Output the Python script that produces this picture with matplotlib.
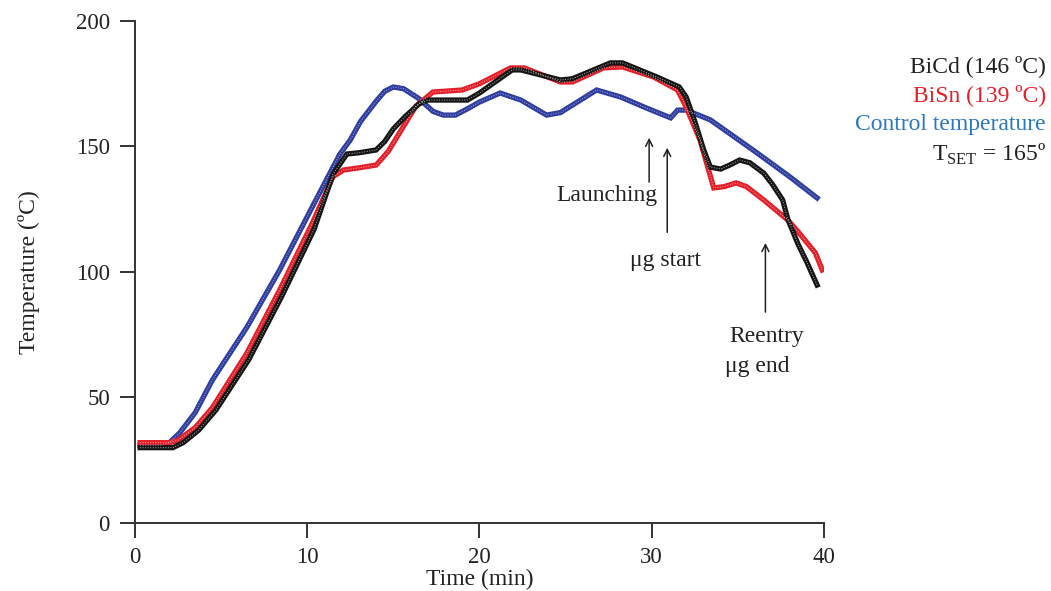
import numpy as np
import matplotlib
matplotlib.use('Agg')
from matplotlib import pyplot as plt

plt.rcParams['font.family'] = ['Liberation Serif', 'DejaVu Serif']
plt.rcParams['mathtext.fontset'] = 'custom'
plt.rcParams['mathtext.rm'] = 'Liberation Serif'

# control temperature (blue)
t_ctrl = [0.3, 1.5, 2.0, 2.6, 3.5, 4.5, 6.5, 8.4, 10.3, 11.9, 12.5, 13.1, 14.0, 14.5, 15.0,
          15.6, 16.5, 17.3, 17.9, 18.6, 19.3, 20.0, 21.2, 22.4, 23.9, 24.7, 26.8, 28.2, 29.7,
          31.1, 31.5, 32.0, 33.4, 36.0, 38.0, 39.6]
T_ctrl = [31, 31, 32, 35.9, 44, 57, 78, 100.8, 126, 147, 152.6, 160, 168, 172, 173.7,
          173, 169, 164, 162.5, 162.5, 165, 167.7, 171.3, 168.5, 162.5, 163.5, 172.5, 169.7, 165.3,
          161.4, 164.5, 164.5, 160.6, 148, 138, 129.5]

# BiCd (black)
t_bicd = [0.3, 2.2, 2.8, 3.7, 4.7, 6.6, 8.5, 10.4, 11.5, 12.3, 13.0, 14.0, 14.5, 15.0, 15.7,
          16.5, 17.0, 19.3, 20.0, 21.9, 22.4, 24.7, 25.4, 27.6, 28.3, 30.3, 31.6, 32.0, 32.5,
          33.0, 33.4, 34.0, 34.5, 35.1, 35.7, 36.5, 37.0, 37.6, 37.9, 38.5, 39.0, 39.6]
T_bicd = [30, 30, 32, 37, 45, 65, 90, 117, 139, 147, 147.5, 148.6, 152, 157, 162,
          167, 168.5, 168.5, 171.3, 180.5, 180.5, 176.5, 177, 183.3, 183.3, 177.7, 173.7, 169.7, 160,
          149, 141.8, 141, 142.5, 144.6, 143.5, 139.4, 135, 128.7, 121, 111, 104, 94.8]

# BiSn (red)
t_bisn = [0.3, 2.0, 2.5, 3.5, 4.5, 6.5, 8.4, 10.3, 11.5, 12.1, 13.0, 14.0, 14.7, 15.5, 16.3,
          17.3, 19.0, 20.0, 21.8, 22.6, 24.7, 25.4, 27.2, 28.3, 30.1, 31.5, 32.0, 32.8, 33.6,
          34.2, 34.9, 35.5, 36.5, 37.9, 38.5, 39.5, 39.9]
T_bisn = [32, 32, 33, 38, 46, 67.7, 92.8, 119.5, 138, 140.6, 141.5, 142.6, 148, 157, 166,
          171.7, 172.5, 175, 181.3, 181.3, 175.7, 175.7, 181.3, 181.7, 177.7, 172.5, 165.7, 152.6, 133.5,
          134, 135.5, 134, 128.7, 120.7, 116, 107.6, 100.8]

x_ticks = [0, 10, 20, 30, 40]
y_ticks = [0, 50, 100, 150, 200]

fs = 17
fig = plt.figure(figsize=(10.51, 5.91), dpi=100)
ax = fig.add_axes([0.1284, 0.1151, 0.6556, 0.8494])

series = [(t_ctrl, T_ctrl, '#2f3d9f', '#a8b0e0'),
          (t_bisn, T_bisn, '#e3202a', '#f5b0b0'),
          (t_bicd, T_bicd, '#151515', '#b0b0b0')]
for t, T, c, light in series:
    ax.plot(t, T, color=c, lw=3.8, solid_joinstyle='miter', zorder=3)
    ax.plot(t, T, color=light, lw=0.7, ls=(0, (1, 1.6)), zorder=4)

ax.set_xlim(0, 40)
ax.set_ylim(0, 200)
ax.set_xticks(x_ticks)
ax.set_yticks(y_ticks)
for s in ['top', 'right']:
    ax.spines[s].set_visible(False)
for s in ['left', 'bottom']:
    ax.spines[s].set_color('#333333')
    ax.spines[s].set_linewidth(1.4)
ax.tick_params(axis='both', direction='out', length=11, width=1.4, color='#333333',
               labelsize=16.5, labelcolor='#222222')
ax.tick_params(axis='y', pad=7)
ax.tick_params(axis='x', pad=6)

ax.set_xlabel('Time (min)', fontsize=fs, color='#222222', labelpad=1)
ax.set_ylabel('Temperature (ºC)', fontsize=fs, color='#222222', labelpad=26)

# event arrows
arr = dict(arrowstyle='->,head_length=0.5,head_width=0.25', lw=1.1, color='#222222')
ax.annotate('', xy=(29.85, 154.6), xytext=(29.85, 134.7), arrowprops=arr)
ax.annotate('', xy=(30.9, 150.6), xytext=(30.9, 114.7), arrowprops=arr)
ax.annotate('', xy=(36.6, 112.7), xytext=(36.6, 82.9), arrowprops=arr)
ax.text(27.4, 130.3, 'Launching', fontsize=fs, ha='center', va='center', color='#222222')
ax.text(30.8, 104.4, 'μg start', fontsize=fs, ha='center', va='center', color='#222222')
ax.text(36.7, 74.1, 'Reentry', fontsize=fs, ha='center', va='center', color='#222222')
ax.text(36.1, 62.2, 'μg end', fontsize=fs, ha='center', va='center', color='#222222')

# legend text
fig.text(0.9952, 0.888, 'BiCd (146 ºC)', fontsize=fs, ha='right', va='center', color='#222222')
fig.text(0.9952, 0.839, 'BiSn (139 ºC)', fontsize=fs, ha='right', va='center', color='#e3202a')
fig.text(0.9952, 0.790, 'Control temperature', fontsize=fs, ha='right', va='center', color='#2a78c2')
fig.text(0.9952, 0.738, r'T$_{\mathrm{SET}}$ = 165º', fontsize=fs, ha='right', va='center', color='#222222')

plt.savefig('out.png', dpi=100)
